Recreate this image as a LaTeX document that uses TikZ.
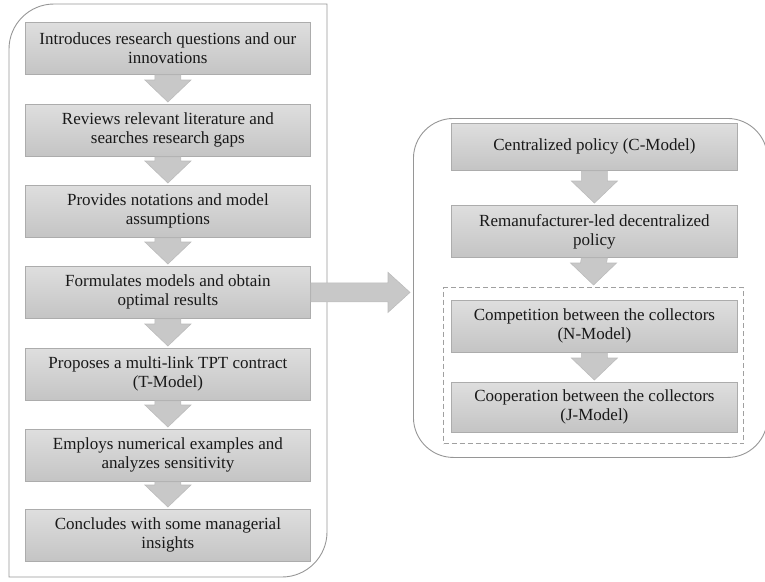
\documentclass[tikz,border=0pt]{standalone}
\usepackage{fontspec}
\setmainfont{Liberation Serif}
\usetikzlibrary{calc}
\definecolor{boxtop}{RGB}{222,222,222}
\definecolor{boxbot}{RGB}{196,196,196}
\definecolor{boxline}{RGB}{172,172,172}
\definecolor{arrfill}{RGB}{200,200,200}
\definecolor{arrline}{RGB}{188,188,188}
\definecolor{frameline}{RGB}{150,150,150}
\definecolor{dashline}{RGB}{160,160,160}
\newcommand\downarr[2]{%
  \draw[blockarrow] ($(#1.south)+(-13,0)$) -- ($(#1.south)+(13,0)$)
    -- ($(#1.south -| #1.south)+(13,0)$) -- ($(#2.north)+(13,-24)$)
    -- ($(#2.north)+(23,-24)$) -- ($(#2.north)+(0,-2)$)
    -- ($(#2.north)+(-23,-24)$) -- ($(#2.north)+(-13,-24)$) -- cycle;}
\begin{document}
\begin{tikzpicture}[x=1pt,y=-1pt,
  stepbox/.style={draw=boxline, line width=0.8pt, top color=boxtop,
    bottom color=boxbot, minimum width=285pt, minimum height=52pt,
    align=center, font=\fontsize{17}{19}\selectfont, inner sep=0pt,
    text=black!90, anchor=north west},
  blockarrow/.style={fill=arrfill, draw=arrline, line width=0.6pt},
  frame/.style={draw=frameline, line width=0.9pt},
  dashframe/.style={draw=dashline, line width=1.1pt, dash pattern=on 5pt off 3pt}]
\clip (0,0) rectangle (765,581);
% left container
\draw[frame] (9,577) -- (9,49) .. controls (9,24.2) and (29.2,4) .. (54,4)
  -- (327,4) -- (327,532) .. controls (327,556.8) and (306.8,577) .. (282,577) -- cycle;
% right container
\node[frame, rounded corners=40pt, minimum width=354pt, minimum height=339pt,
  inner sep=0pt, anchor=north west] (rc) at (413,118) {};
% dashed group
\node[dashframe, minimum width=300pt, minimum height=156pt, inner sep=0pt,
  anchor=north west] (dbox) at (443,287) {};
% left boxes
\node[stepbox] (b1) at (25,22) {Introduces research questions and our\\innovations};
\node[stepbox] (b2) at (25,104) {Reviews relevant literature and\\searches research gaps};
\node[stepbox] (b3) at (25,185) {Provides notations and model\\assumptions};
\node[stepbox] (b4) at (25,266) {Formulates models and obtain\\optimal results};
\node[stepbox] (b5) at (25,348) {Proposes a multi-link TPT contract\\(T-Model)};
\node[stepbox] (b6) at (25,429) {Employs numerical examples and\\analyzes sensitivity};
\node[stepbox] (b7) at (25,509) {Concludes with some managerial\\insights};
% right boxes
\node[stepbox, minimum width=286pt, minimum height=47pt] (c1) at (451,123) {Centralized policy (C-Model)};
\node[stepbox, minimum width=286pt] (c2) at (451,205) {Remanufacturer-led decentralized\\policy};
\node[stepbox, minimum width=286pt] (c3) at (451,300) {Competition between the collectors\\(N-Model)};
\node[stepbox, minimum width=286pt, minimum height=50pt] (c4) at (451,382) {Cooperation between the collectors\\(J-Model)};
% arrows
\downarr{b1}{b2}
\downarr{b2}{b3}
\downarr{b3}{b4}
\downarr{b4}{b5}
\downarr{b5}{b6}
\downarr{b6}{b7}
\downarr{c1}{c2}
\downarr{c2}{dbox}
\downarr{c3}{c4}
\coordinate (tip) at ($(rc.west |- b4.east)+(-3,0)$);
\draw[blockarrow] ($(b4.east)+(0,-9.5)$) -- ($(tip)+(-22,-9.5)$) -- ($(tip)+(-22,-20)$)
  -- (tip) -- ($(tip)+(-22,20)$) -- ($(tip)+(-22,9.5)$) -- ($(b4.east)+(0,9.5)$) -- cycle;
\end{tikzpicture}
\end{document}
